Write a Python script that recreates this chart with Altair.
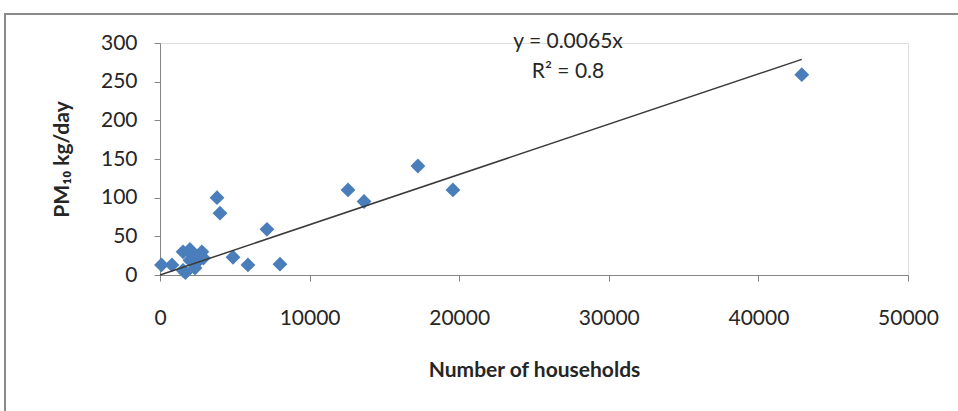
import altair as alt
import pandas as pd

households = [100, 800, 1540, 2000, 2800, 1540, 2340, 2000, 1700, 2500, 2200, 2900,
              4880, 5880, 8020, 7150, 3810, 4010, 12570, 13640, 19580, 17240, 42900]
pm10 = [13, 13, 30, 33, 30, 6, 9, 19, 3, 17, 25, 22,
        23, 13, 14, 59, 100, 80, 110, 95, 110, 141, 259]

slope = 0.0065
trend_x = [0, 42900]
trend_y = [slope * v for v in trend_x]

eq_lines = ["y = 0.0065x", "R² = 0.8"]

FONT = "Lato"
TXT = "#262626"
AX = "#868686"

pts = pd.DataFrame({"x": households, "y": pm10})
trend = pd.DataFrame({"x": trend_x, "y": trend_y})

xscale = alt.Scale(domain=[0, 50000], nice=False)
yscale = alt.Scale(domain=[0, 300], nice=False)

xaxis = alt.Axis(values=[0, 10000, 20000, 30000, 40000, 50000], format="d", grid=False,
                 title="Number of households", titleFont=FONT, titleFontSize=21,
                 titleFontWeight="bold", titleColor=TXT, titlePadding=31,
                 labelFont=FONT, labelFontSize=21, labelColor=TXT, labelPadding=26,
                 labelOverlap=False,
                 domainColor=AX, tickColor=AX, tickSize=6, labelFlush=False)
yaxis = alt.Axis(values=[0, 50, 100, 150, 200, 250, 300], grid=False,
                 title="PM₁₀ kg/day", titleFont=FONT, titleFontSize=21,
                 titleFontWeight="bold", titleColor=TXT, titleAngle=-90,
                 titleX=-98, titleY=116, titleBaseline="middle", titleAlign="center",
                 labelFont=FONT, labelFontSize=21, labelColor=TXT, labelPadding=17,
                 labelOverlap=False,
                 domainColor=AX, tickColor=AX, tickSize=6)

points = alt.Chart(pts).mark_point(shape="diamond", filled=True, size=220,
                                   color="#4a7ebb", opacity=1).encode(
    x=alt.X("x:Q", scale=xscale, axis=xaxis),
    y=alt.Y("y:Q", scale=yscale, axis=yaxis),
)

line = alt.Chart(trend).mark_line(color="#3a3a3a", strokeWidth=1.5).encode(
    x=alt.X("x:Q", scale=xscale, axis=xaxis),
    y=alt.Y("y:Q", scale=yscale, axis=yaxis),
)

eq1 = alt.Chart(pd.DataFrame({"t": [eq_lines[0]]})).mark_text(
    font=FONT, fontSize=21, color=TXT, align="center", baseline="middle").encode(
    text="t:N", x=alt.value(408), y=alt.value(-1))
eq2 = alt.Chart(pd.DataFrame({"t": [eq_lines[1]]})).mark_text(
    font=FONT, fontSize=21, color=TXT, align="center", baseline="middle").encode(
    text="t:N", x=alt.value(408), y=alt.value(29))

frame = alt.Chart(pd.DataFrame({"a": [0]})).mark_rect(
    fill=None, stroke="#8a8a8a", strokeWidth=2).encode(
    x=alt.value(-155), x2=alt.value(1000), y=alt.value(-29), y2=alt.value(500))

chart = alt.layer(frame, points, line, eq1, eq2).properties(
    width=748, height=232,
    padding={"left": 160, "top": 43, "right": 50, "bottom": 136},
    autosize=alt.AutoSizeParams(type="none"),
).configure_view(stroke=None).configure(background="white")

chart.save("out.html", embed_options={"renderer": "svg", "actions": False})
